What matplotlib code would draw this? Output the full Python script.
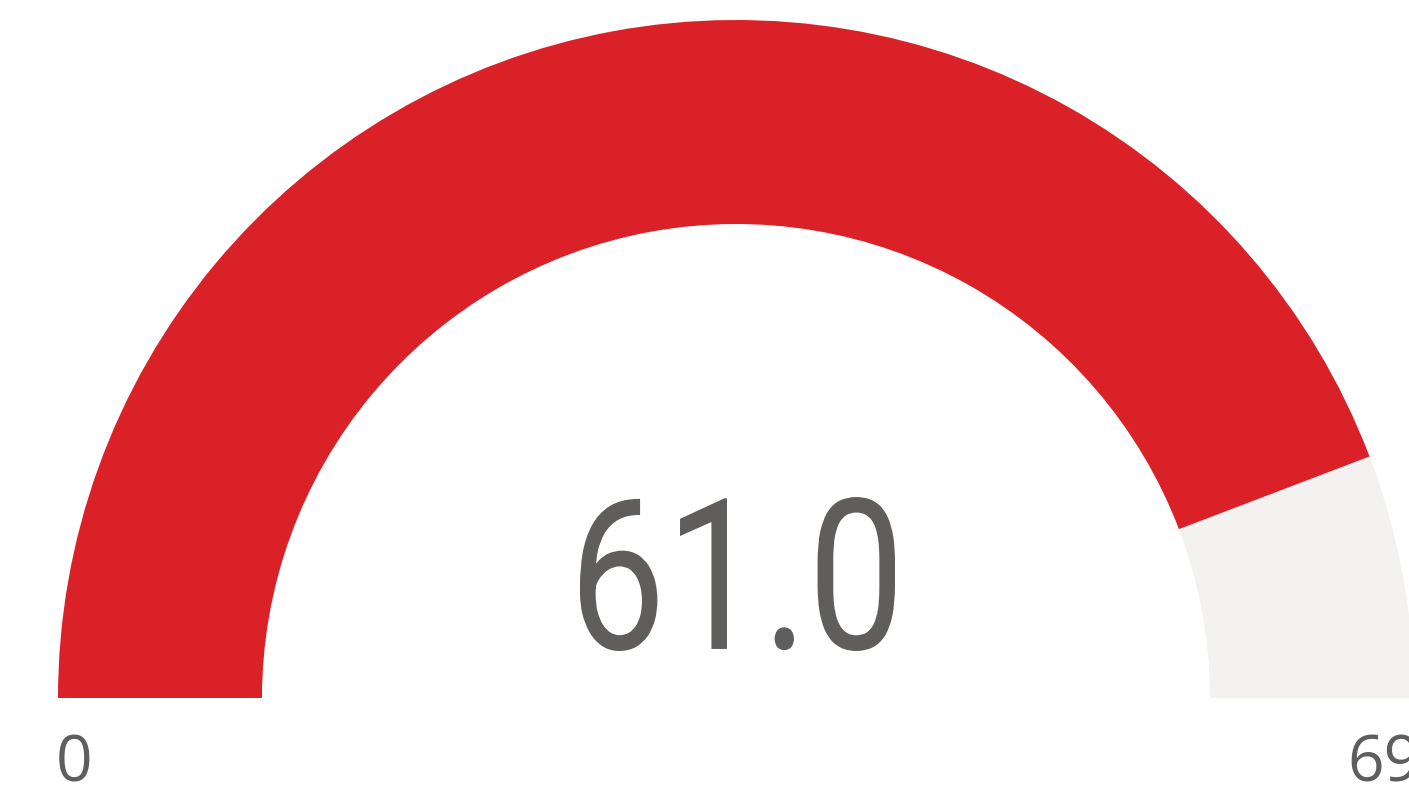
import matplotlib
matplotlib.use("Agg")
import matplotlib.pyplot as plt
from matplotlib.patches import Wedge, PathPatch
from matplotlib.textpath import TextPath
from matplotlib.font_manager import FontProperties
from matplotlib.transforms import Affine2D

# gauge data
value = 61.0
min_val = 0
max_val = 69
value_label = "61.0"

red = "#DA2128"
track = "#F3F2F1"
txt = "#605E5C"

W, H = 1409, 786
fig = plt.figure(figsize=(W / 100, H / 100), dpi=100)
ax = fig.add_axes([0, 0, 1, 1])
ax.set_xlim(0, W)
ax.set_ylim(0, H)
ax.axis("off")

# gauge geometry (pixels)
cx, cy = 736, H - 698
r_out, r_in = 678, 474

frac = (value - min_val) / (max_val - min_val)
split = 180 - 180 * frac
ax.add_patch(Wedge((cx, cy), r_out, 0, split, width=r_out - r_in,
                   facecolor=track, edgecolor="none"))
ax.add_patch(Wedge((cx, cy), r_out, split, 180, width=r_out - r_in,
                   facecolor=red, edgecolor="none"))

# big value label, condensed to look like the narrow DIN-style face
fp = FontProperties(family="Roboto", weight="normal")
tp = TextPath((0, 0), value_label, size=1000, prop=fp)
ext = tp.get_extents()
x0, x1 = 580, 895
y0, y1 = H - 651, H - 497
sx = (x1 - x0) / ext.width
sy = (y1 - y0) / ext.height
tr = Affine2D().translate(-ext.x0, -ext.y0).scale(sx, sy).translate(x0, y0)
ax.add_patch(PathPatch(tr.transform_path(tp), facecolor=txt, edgecolor="none"))

# min / max labels
ax.text(56, 4, str(min_val), fontsize=46, color=txt, family="Open Sans",
        ha="left", va="baseline")
ax.text(1347, 4, str(max_val), fontsize=46, color=txt, family="Open Sans",
        ha="left", va="baseline", clip_on=False)

fig.savefig("out.png", dpi=100)
